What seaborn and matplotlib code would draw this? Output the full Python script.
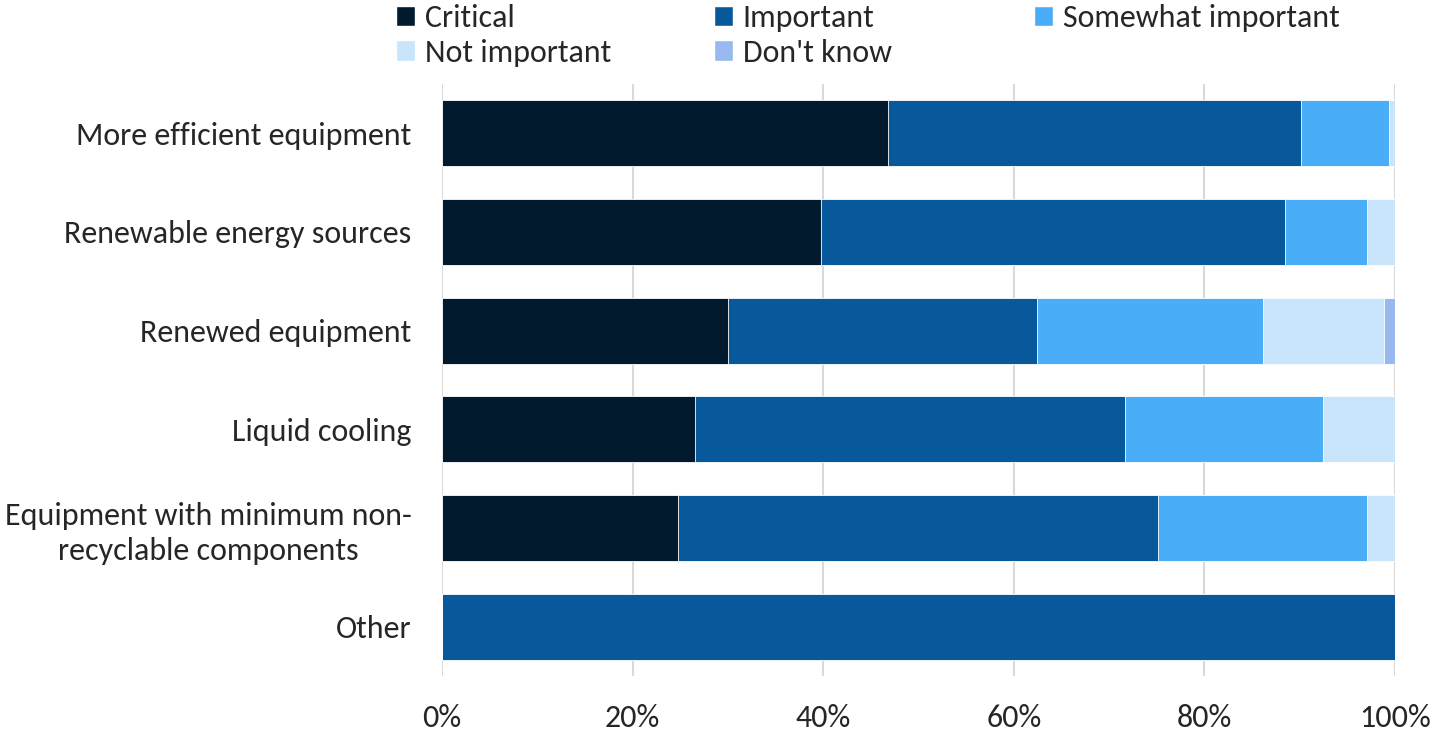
"""Stacked horizontal bar chart: importance of sustainability measures."""

import matplotlib

matplotlib.use("Agg")
import matplotlib.pyplot as plt  # noqa: E402
import numpy as np  # noqa: E402
import pandas as pd  # noqa: E402
import seaborn as sns  # noqa: E402
from matplotlib.patches import Patch  # noqa: E402
from matplotlib.ticker import PercentFormatter  # noqa: E402

categories = [
    "More efficient equipment",
    "Renewable energy sources",
    "Renewed equipment",
    "Liquid cooling",
    "Equipment with minimum non-\nrecyclable components",
    "Other",
]
levels = ["Critical", "Important", "Somewhat important", "Not important", "Don't know"]

critical = [46.8, 39.8, 30.0, 26.5, 24.8, 0.0]
important = [43.3, 48.7, 32.4, 45.2, 50.3, 100.0]
somewhat = [9.3, 8.6, 23.7, 20.7, 22.0, 0.0]
not_important = [0.6, 2.9, 12.7, 7.6, 2.9, 0.0]
dont_know = [0.0, 0.0, 1.2, 0.0, 0.0, 0.0]

colors = ["#021a2e", "#08599b", "#4aadf8", "#c9e5fc", "#9ab8f0"]

df = pd.DataFrame(
    {
        "category": categories,
        "Critical": critical,
        "Important": important,
        "Somewhat important": somewhat,
        "Not important": not_important,
        "Don't know": dont_know,
    }
)
cum = df[levels].cumsum(axis=1)

sns.set_style("white")
plt.rcParams["font.family"] = ["Carlito", "Lato", "DejaVu Sans"]
FS = 23

fig = plt.figure(figsize=(14.34, 7.31), dpi=100)
ax = fig.add_axes([442 / 1434, 1 - 676 / 731, (1395 - 442) / 1434, (676 - 84) / 731])

# overlapping cumulative bars, widest first
for level, color in reversed(list(zip(levels, colors))):
    sns.barplot(
        x=cum[level],
        y=df["category"],
        orient="h",
        color=color,
        width=0.67,
        edgecolor="white",
        linewidth=0.6,
        saturation=1,
        ax=ax,
        zorder=2,
    )

ax.set_xlim(0, 100)
ax.set_ylim(5.5, -0.5)
ax.set_xticks(np.arange(0, 101, 20))
ax.xaxis.set_major_formatter(PercentFormatter(decimals=0))
ax.grid(axis="x", color="#d9d9d9", lw=1.5, zorder=0)
ax.set_axisbelow(True)
for s in ax.spines.values():
    s.set_visible(False)
ax.set_xlabel("")
ax.set_ylabel("")
ax.tick_params(axis="x", length=0, pad=20, labelsize=FS)
ax.tick_params(axis="y", length=0, pad=22, labelsize=FS)
for t in ax.get_yticklabels():
    t.set_horizontalalignment("right")
    t.set_multialignment("center")
    t.set_linespacing(1.3)

# legend: three fixed-width columns, filled row by row
handles = [Patch(facecolor=c, label=l) for l, c in zip(levels, colors)]
columns = [[0, 3], [1, 4], [2]]
col_x = [380, 698, 1018]
for idx, x in zip(columns, col_x):
    fig.legend(
        [handles[i] for i in idx],
        [levels[i] for i in idx],
        loc="upper left",
        bbox_to_anchor=(x / 1434, 1.016),
        frameon=False,
        fontsize=FS,
        handlelength=0.6,
        handleheight=0.6,
        handletextpad=0.3,
        labelspacing=0.2,
        borderaxespad=0.1,
    )

fig.savefig("out.png", dpi=100)
plt.close(fig)
